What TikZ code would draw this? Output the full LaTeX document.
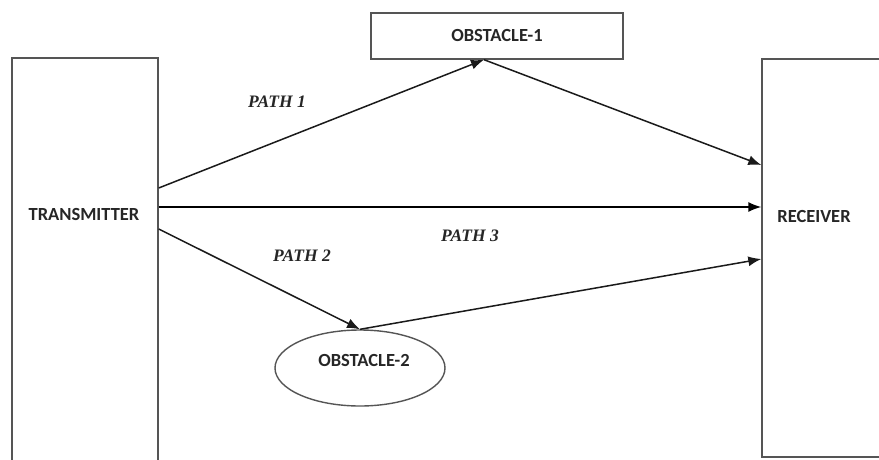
\documentclass[tikz,border=0pt]{standalone}
\usepackage{fontspec}
\setmainfont{Carlito}
\newfontfamily\pathfont{Liberation Serif}
\usetikzlibrary{arrows.meta,shapes.geometric,calc}
\definecolor{boxline}{HTML}{555555}
\definecolor{ink}{HTML}{1A1A1A}
\definecolor{txt}{HTML}{262626}
\tikzset{
  block/.style={draw=boxline, line width=1.4pt, fill=white, inner sep=0pt},
  blocktext/.style={text=txt, font=\fontsize{18.5}{18.5}\selectfont\bfseries, inner sep=0pt},
  pathlabel/.style={text=txt, font=\fontsize{17.5}{17.5}\selectfont\pathfont\itshape\bfseries, inner sep=0pt},
  ray/.style={draw=ink, line width=1.5pt, -{Latex[length=13pt,width=10pt]}}
}
\begin{document}
\begin{tikzpicture}[x=1pt,y=-1pt]
  \useasboundingbox[fill=white] (0,0) rectangle (879,459);

  % transmitter and receiver columns (run past the page edges)
  \node[block, rectangle, minimum width=146pt, minimum height=420pt] (tx) at (85,268) {};
  \node[blocktext] (txlabel) at (84,214) {TRANSMITTER};
  \node[block, rectangle, minimum width=200pt, minimum height=398pt] (rx) at (862,258) {};
  \node[blocktext] (rxlabel) at (814,216) {RECEIVER};

  % obstacles
  \node[block, rectangle, minimum width=252pt, minimum height=46pt] (obs1) at (497,36) {};
  \node[blocktext] (obs1label) at (497,35) {OBSTACLE-1};
  \node[block, ellipse, minimum width=170pt, minimum height=76pt] (obs2) at (360,368) {};
  \node[blocktext] (obs2label) at (364,360) {OBSTACLE-2};

  % reflection points on the obstacles
  \coordinate (hit1) at (484,0 |- obs1.south);
  \coordinate (hit2) at (obs2.north);

  % path 1: via obstacle 1
  \draw[ray] (tx.east |- 0,188) -- (hit1);
  \draw[ray] (hit1) -- (rx.west |- 0,165);
  % path 3: direct
  \draw[ray, draw=black] (tx.east |- 0,207) -- (rx.west |- 0,207);
  % path 2: via obstacle 2
  \draw[ray] (tx.east |- 0,229) -- (hit2);
  \draw[ray] (hit2) -- (rx.west |- 0,259);

  % labels
  \node[pathlabel] (p1) at (277,102) {PATH 1};
  \node[pathlabel] (p2) at (302,256) {PATH 2};
  \node[pathlabel] (p3) at (470,236) {PATH 3};
\end{tikzpicture}
\end{document}
